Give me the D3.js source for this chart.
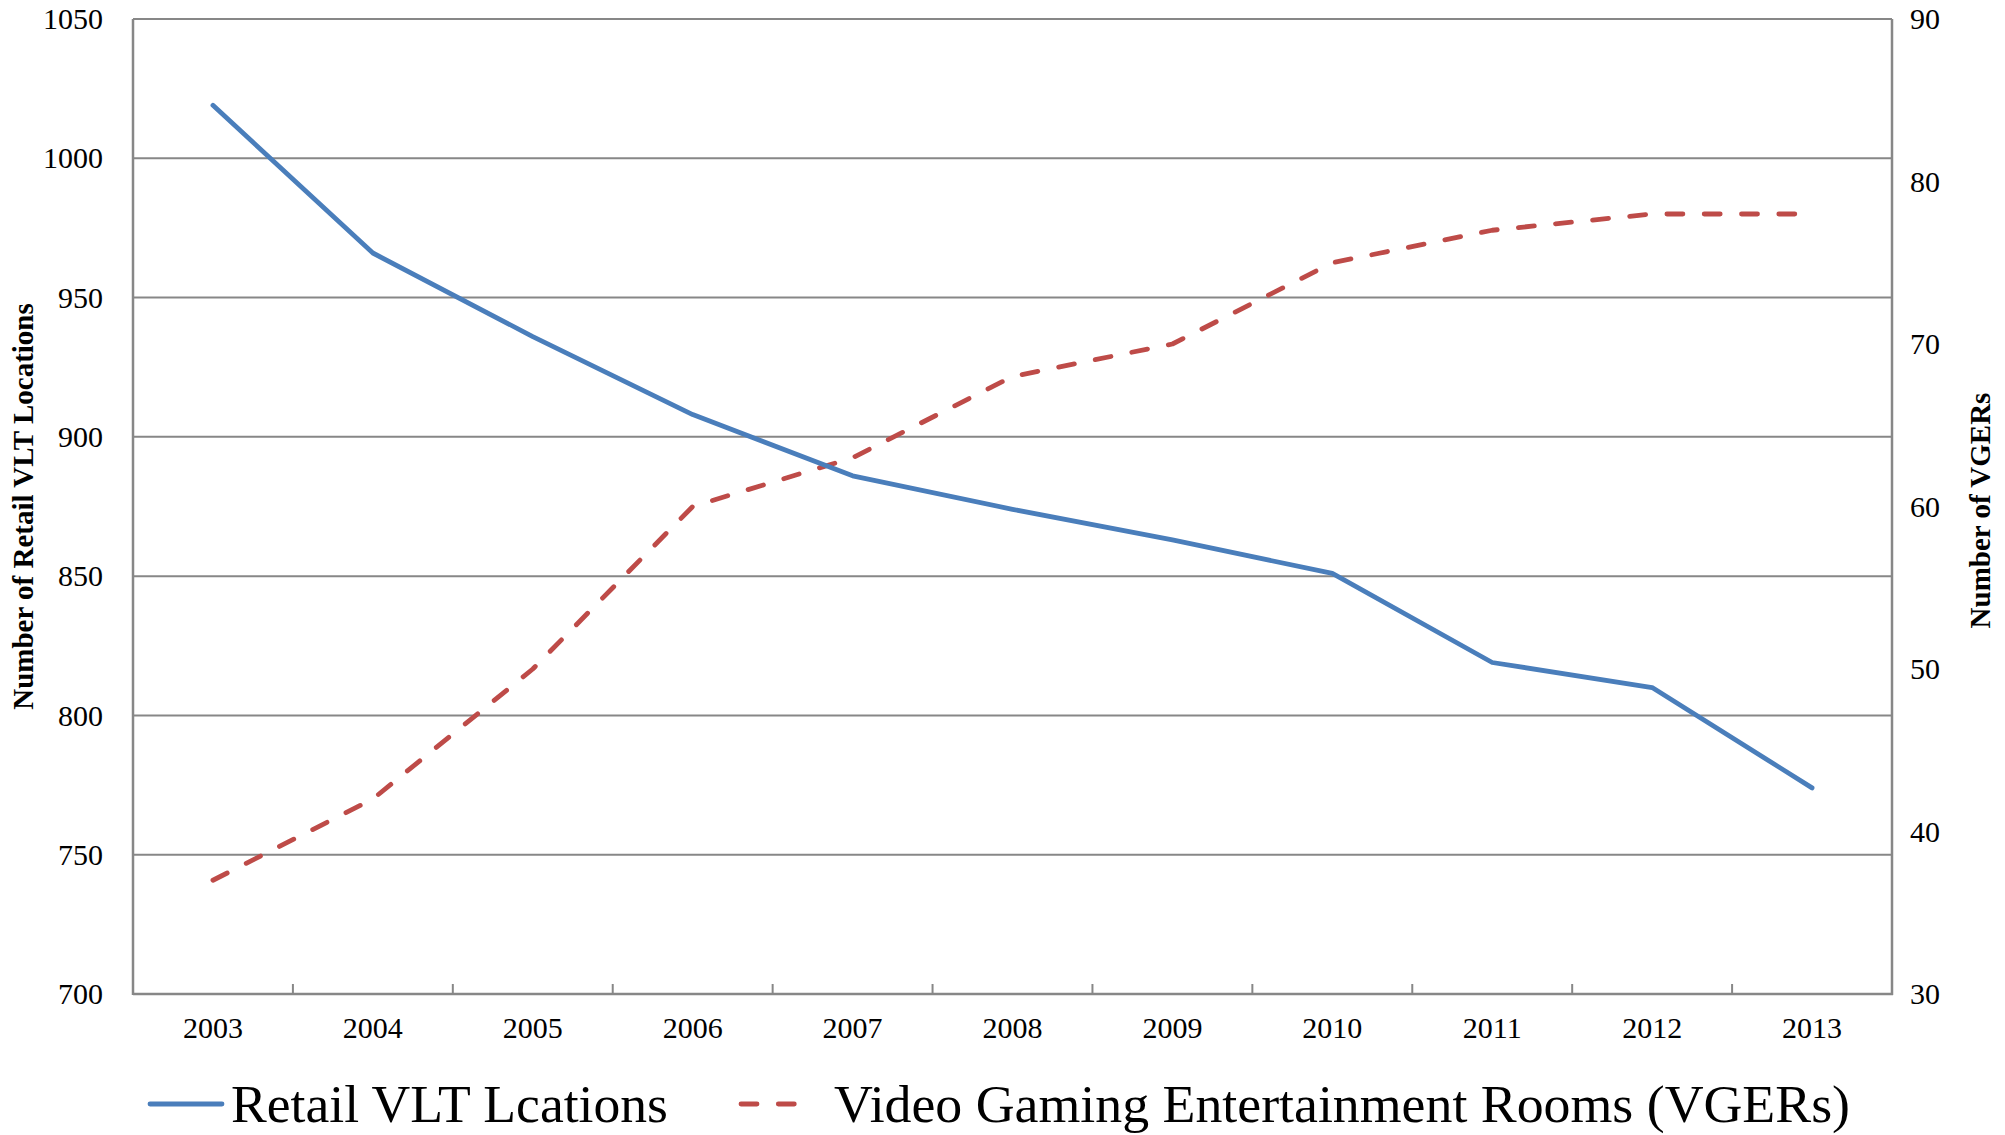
<!DOCTYPE html>
<html><head><meta charset="utf-8">
<script src="https://cdn.jsdelivr.net/npm/d3@7"></script>
<style>
html,body{margin:0;padding:0;background:#fff;}
svg{display:block;}
text{font-family:"Liberation Serif","Times New Roman",serif;fill:#000;}
</style></head>
<body>
<svg id="chart" width="2005" height="1135"></svg>
<script>
const years = ["2003","2004","2005","2006","2007","2008","2009","2010","2011","2012","2013"];
const retailVLT = [1019, 966, 936, 908, 886, 874, 863, 851, 819, 810, 774];
const vgers = [37, 42, 50, 60, 63, 68, 70, 75, 77, 78, 78];
const leftTicks = [700, 750, 800, 850, 900, 950, 1000, 1050];
const rightTicks = [30, 40, 50, 60, 70, 80, 90];
const seriesNames = ["Retail VLT Lcations", "Video Gaming Entertainment Rooms (VGERs)"];
const leftTitle = "Number of Retail VLT Locations";
const rightTitle = "Number of VGERs";

const svg = d3.select("#chart");
const L = 133, R = 1892, T = 19, B = 994;
const gridColor = "#878787";
const blue = "#4a7ebb", red = "#be4b48";

const x = d3.scaleBand().domain(years).range([L, R]).padding(0);
const yL = d3.scaleLinear().domain([700, 1050]).range([B, T]);
const yR = d3.scaleLinear().domain([30, 90]).range([B, T]);
const cx = d => x(d) + x.bandwidth() / 2;

// gridlines
svg.append("g").selectAll("line").data(leftTicks.filter(v => v > 700)).join("line")
  .attr("x1", L).attr("x2", R).attr("y1", d => yL(d)).attr("y2", d => yL(d))
  .attr("stroke", gridColor).attr("stroke-width", 2);

// axis lines
svg.append("line").attr("x1", L).attr("x2", L).attr("y1", T).attr("y2", B + 1)
  .attr("stroke", gridColor).attr("stroke-width", 2.5);
svg.append("line").attr("x1", R).attr("x2", R).attr("y1", T).attr("y2", B + 1)
  .attr("stroke", gridColor).attr("stroke-width", 2.5);
svg.append("line").attr("x1", L).attr("x2", R + 1).attr("y1", B).attr("y2", B)
  .attr("stroke", gridColor).attr("stroke-width", 2.5);

// x tick marks at category boundaries
svg.append("g").selectAll("line").data(years.slice(1)).join("line")
  .attr("x1", d => x(d)).attr("x2", d => x(d)).attr("y1", B).attr("y2", B - 10)
  .attr("stroke", gridColor).attr("stroke-width", 2);

// axes labels via d3 axes
const axL = svg.append("g").attr("transform", `translate(${L},0)`)
  .call(d3.axisLeft(yL).tickValues(leftTicks).tickSize(0).tickPadding(30).tickFormat(d3.format("d")));
const axR = svg.append("g").attr("transform", `translate(${R},0)`)
  .call(d3.axisRight(yR).tickValues(rightTicks).tickSize(0).tickPadding(18).tickFormat(d3.format("d")));
const axB = svg.append("g").attr("transform", `translate(0,${B})`)
  .call(d3.axisBottom(x).tickSize(0).tickPadding(23));
[axL, axR, axB].forEach(a => {
  a.select(".domain").remove();
  a.selectAll("text").style("font-family", '"Liberation Serif","Times New Roman",serif')
    .style("font-size", "30px").attr("fill", "#000");
});

// series lines
const lineL = d3.line().x((d, i) => cx(years[i])).y(d => yL(d));
const lineR = d3.line().x((d, i) => cx(years[i])).y(d => yR(d));
svg.append("path").datum(vgers).attr("d", lineR)
  .attr("fill", "none").attr("stroke", red).attr("stroke-width", 4.8)
  .attr("stroke-linecap", "round").attr("stroke-linejoin", "round")
  .attr("stroke-dasharray", "16,21.3");
svg.append("path").datum(retailVLT).attr("d", lineL)
  .attr("fill", "none").attr("stroke", blue).attr("stroke-width", 4.8)
  .attr("stroke-linecap", "round").attr("stroke-linejoin", "round");

// axis titles
svg.append("text").attr("transform", `translate(33,${(T + B) / 2}) rotate(-90)`)
  .attr("text-anchor", "middle").style("font-size", "29px").style("font-weight", "bold")
  .text(leftTitle);
svg.append("text").attr("transform", `translate(1990,${(T + B) / 2 + 4}) rotate(-90)`)
  .attr("text-anchor", "middle").style("font-size", "29px").style("font-weight", "bold")
  .text(rightTitle);

// legend
const lg = svg.append("g");
lg.append("line").attr("x1", 150).attr("x2", 222).attr("y1", 1104).attr("y2", 1104)
  .attr("stroke", blue).attr("stroke-width", 4.8).attr("stroke-linecap", "round");
lg.append("text").attr("x", 231).attr("y", 1122).style("font-size", "52px")
  .attr("textLength", 437).attr("lengthAdjust", "spacingAndGlyphs").text(seriesNames[0]);
lg.append("line").attr("x1", 741).attr("x2", 808).attr("y1", 1104).attr("y2", 1104)
  .attr("stroke", red).attr("stroke-width", 4.8).attr("stroke-linecap", "round")
  .attr("stroke-dasharray", "16,21.3");
lg.append("text").attr("x", 834).attr("y", 1122).style("font-size", "52px")
  .attr("textLength", 1016).attr("lengthAdjust", "spacingAndGlyphs").text(seriesNames[1]);
</script>
</body></html>
